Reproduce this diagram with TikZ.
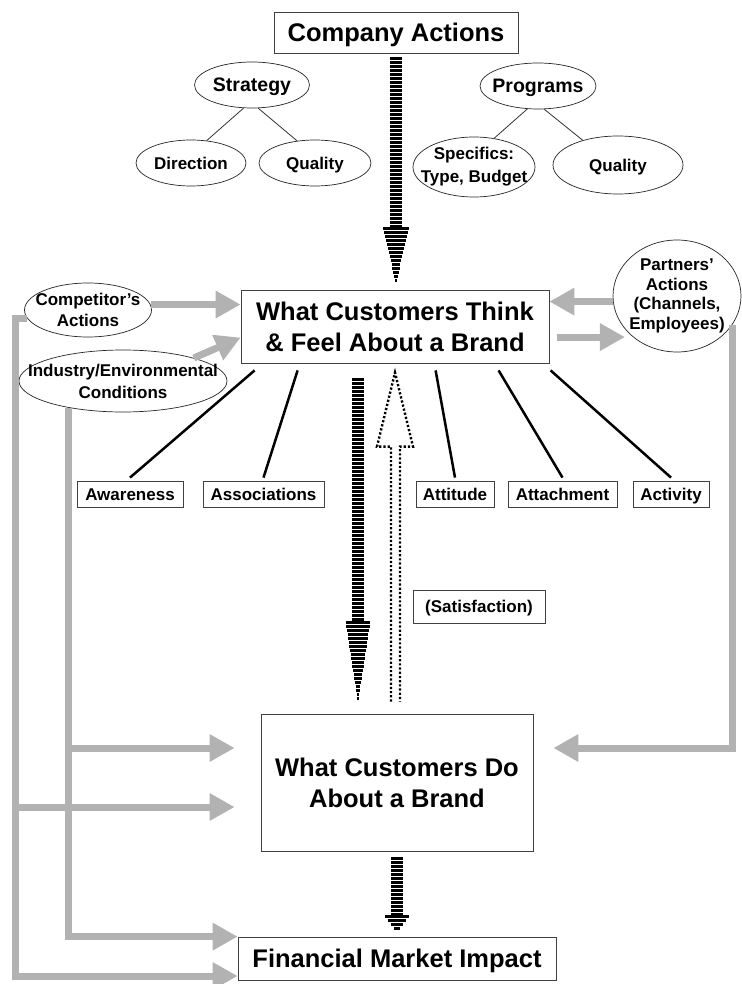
\documentclass[tikz,border=0pt]{standalone}
\usepackage{fontspec}
\setmainfont{Liberation Sans}
\usepackage{tikz}
\usetikzlibrary{shapes.geometric,positioning,calc}
\usetikzlibrary{arrows.meta}
\definecolor{flowgray}{RGB}{178,178,178}

\begin{document}
\begin{tikzpicture}[x=1pt, y=-1pt,
    box/.style={draw=black!75, line width=0.8pt, fill=white, inner sep=0pt, align=center},
    oval/.style 2 args={ellipse, draw=black!85, line width=0.7pt, fill=white, inner sep=0pt,
        minimum width=#1, minimum height=#2},
    bigtxt/.style={font=\fontsize{25.5}{31}\selectfont\bfseries, align=center},
    midtxt/.style={font=\fontsize{19.5}{23}\selectfont\bfseries, align=center, text height=14pt, text depth=0pt},
    smalltxt/.style={font=\fontsize{17}{21}\selectfont\bfseries, align=center},
    oneline/.style={text height=12.2pt, text depth=0pt},
    twig/.style={draw=black!80, line width=0.8pt},
    spoke/.style={draw=black, line width=2.5pt},
    stripeline/.style={line width=12pt, dash pattern=on 2.5pt off 1.5pt},
    bar/.style={line width=2.5pt},
    dotline/.style={line width=2.4pt, dash pattern=on 2.2pt off 2pt},
    grayline/.style={draw=flowgray, line width=7pt},
    grayarrow/.style={grayline, -{Triangle[length=25pt, width=26pt]}}]

    \path[use as bounding box, fill=white] (0,0) rectangle (741,984);

    % Company actions and its two trees
    \node[box, bigtxt, text height=18.3pt, text depth=0pt, minimum width=244pt, minimum height=41pt] (ca) at (396,32.5) {Company Actions};
    \node[oval={115pt}{46pt}, label={[midtxt]center:Strategy}] (strat) at (252,85) {};
    \node[oval={110pt}{46pt}, label={[smalltxt, oneline]center:Direction}] (dir) at (191,163) {};
    \node[oval={112pt}{46pt}, label={[smalltxt, oneline]center:Quality}] (qualS) at (315,163) {};
    \node[oval={116pt}{46pt}, label={[midtxt]center:Programs}] (prog) at (538,86) {};
    \node[oval={122pt}{60pt}, label={[smalltxt, font=\fontsize{17}{23}\selectfont\bfseries]center:{Specifics:\\Type, Budget}}] (spec) at (474,167) {};
    \node[oval={130pt}{58pt}, label={[smalltxt, oneline]center:Quality}] (qualP) at (618,165) {};

    \draw[twig] (strat.250) -- (dir.55);
    \draw[twig] (strat.285) -- (qualS.129);
    \draw[twig] (prog.245) -- (spec.55);
    \draw[twig] (prog.285) -- (qualP.145);

    % Brand knowledge
    \node[box, bigtxt, minimum width=308pt, minimum height=73pt] (think) at (395,326.5) {What Customers Think\\\& Feel About a Brand};
    \node[oval={127pt}{54pt}, label={[smalltxt]center:{Competitor's\\Actions}}] (comp) at (88,310) {};
    \node[oval={208pt}{62pt}, label={[smalltxt, font=\fontsize{17}{22}\selectfont\bfseries]center:{Industry/Environmental\\Conditions}}] (ind) at (123,381) {};
    \node[oval={128pt}{112pt}, label={[smalltxt, font=\fontsize{17}{19.5}\selectfont\bfseries]center:{Partners'\\Actions\\(Channels,\\Employees)}}] (part) at (677,296) {};

    \node[box, smalltxt, oneline, minimum width=106pt, minimum height=26pt] (aware) at (130,494) {Awareness};
    \node[box, smalltxt, oneline, minimum width=121pt, minimum height=26pt] (assoc) at (263.5,494) {Associations};
    \node[box, smalltxt, oneline, minimum width=78pt, minimum height=26pt] (attit) at (455,494) {Attitude};
    \node[box, smalltxt, oneline, minimum width=109pt, minimum height=26pt] (attach) at (562.5,494) {Attachment};
    \node[box, smalltxt, oneline, minimum width=76pt, minimum height=26pt] (activ) at (671,494) {Activity};

    \foreach \n/\dx in {aware/14, assoc/57, attit/195, attach/258, activ/310}
        \draw[spoke] ($(think.south west)+(\dx,7)$) -- ([yshift=3pt]\n.north);

    % Behaviour and market
    \node[box, smalltxt, oneline, minimum width=132pt, minimum height=33pt] (sat) at (479,606.5) {(Satisfaction)};
    \node[box, bigtxt, minimum width=272pt, minimum height=137pt] (do) at (397,782.5) {What Customers Do\\About a Brand};
    \node[box, bigtxt, text height=18.3pt, text depth=0pt, minimum width=318pt, minimum height=43pt] (fin) at (397,958.5) {Financial Market Impact};

    % Striped arrows
    \coordinate (tipA) at ($(think.north)+(1,-5)$);
    \coordinate (tipB) at ($(do.north)+(-39,-11)$);
    \coordinate (tipC) at ($(fin.north)+(0,-4)$);
    \draw[stripeline] ($(ca.south)+(0,4)$) -- ($(tipA)+(0,-58)$);
    \draw[stripeline] ($(think.south)+(-37,15)$) -- ($(tipB)+(0,-81)$);
    \draw[stripeline] ($(do.south)+(0,6)$) -- ($(tipC)+(0,-18)$);
    \foreach \t/\len/\hw in {tipA/58/13, tipB/81/12.5, tipC/18/14}{
        \pgfmathtruncatemacro{\nk}{\len/4}
        \foreach \k in {1,...,\nk}
            \draw[bar] ($(\t)+({-\hw*\k*4/\len},{-4*\k})$) -- ($(\t)+({\hw*\k*4/\len},{-4*\k})$);
    }

    % Dotted feedback arrow
    \draw[dotline] ($(do.north)+(-6,-12)$) -- ++(0,-255) -- ++(-14,0) -- ++(18,-74)
        -- ++(18,74) -- ++(-13,0) -- ++(0,255);

    % Gray influence arrows
    \draw[grayarrow] (comp.5) -- (think.west |- comp.5);
    \draw[grayarrow] (ind.18) -- ($(think.north west)+(0,48)$);
    \draw[grayarrow] (part.185) -- (think.east |- part.185);
    \draw[grayarrow, shorten <=8pt, shorten >=8pt] (think.east |- part.223) -- (part.223);
    \draw[grayarrow] (comp.188) -| (15,976) -- (fin.west |- 0,976);
    \draw[grayarrow] (ind.206) |- (fin.north west);
    \draw[grayarrow, shorten >=26pt] (15,807) -- (do.west |- 0,807);
    \draw[grayarrow, shorten >=26pt] (68,748) -- (do.west |- 0,748);
    \draw[grayarrow, shorten >=20pt] (part.-28.5) |- (do.east |- 0,748);
\end{tikzpicture}
\end{document}
